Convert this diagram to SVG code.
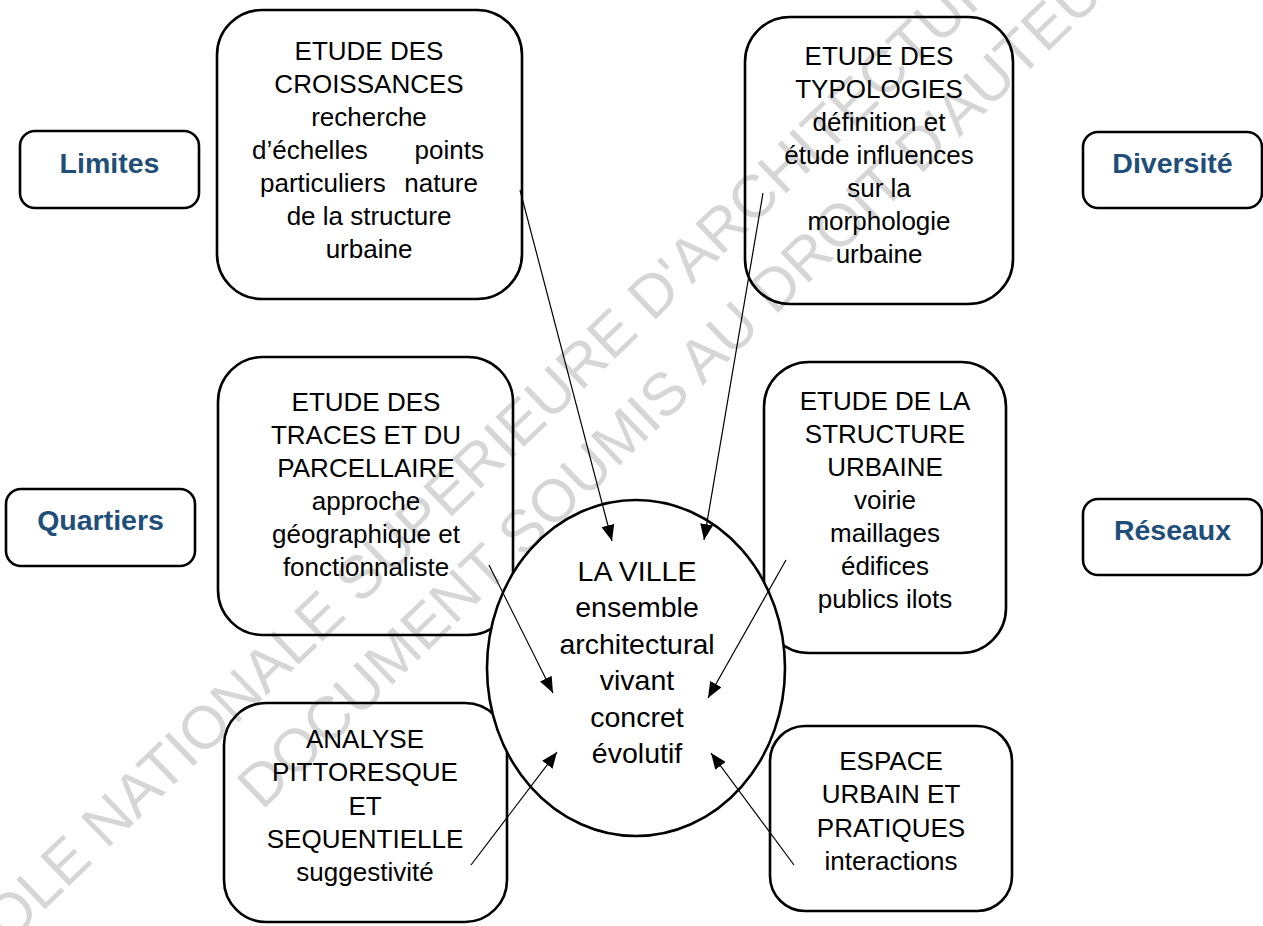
<svg xmlns="http://www.w3.org/2000/svg" width="1263" height="926" viewBox="0 0 1263 926">
<defs>
<marker id="ah" markerUnits="userSpaceOnUse" markerWidth="16" markerHeight="13" refX="16" refY="6.5" orient="auto">
<path d="M0,0 L16,6.5 L0,13 z" fill="#000"/>
</marker>
<style>
.box{fill:none;stroke:#000;stroke-width:2.6}
.lab{fill:none;stroke:#000;stroke-width:2.6}
.t{font-family:"Liberation Sans",Arial,sans-serif;font-size:26px;fill:#000;text-anchor:middle}
.tv{font-family:"Liberation Sans",Arial,sans-serif;font-size:28.5px;fill:#000;text-anchor:middle}
.lt{font-family:"Liberation Sans",Arial,sans-serif;font-size:28.5px;font-weight:bold;fill:#1F4E79;text-anchor:middle}
.wm{font-family:"Liberation Sans",Arial,sans-serif;font-size:60px;fill:#d6d6d6}
.c{stroke:#000;stroke-width:1.2;fill:none;marker-end:url(#ah)}
</style>
</defs>
<rect width="1263" height="926" fill="#fff"/>
<g id="watermark">
<text class="wm" transform="translate(-52,1003) rotate(-44)">ECOLE NATIONALE SUPERIEURE D'ARCHITECTURE</text>
<text class="wm" transform="translate(262,811) rotate(-44)">DOCUMENT SOUMIS AU DROIT D'AUTEUR</text>
</g>
<g id="limites">
<rect class="lab" x="20" y="131" width="179" height="77" rx="15"/>
<text class="lt" x="109.5" y="173">Limites</text>
</g>
<g id="diversite">
<rect class="lab" x="1083" y="132" width="179" height="76" rx="15"/>
<text class="lt" x="1172.5" y="173">Diversité</text>
</g>
<g id="quartiers">
<rect class="lab" x="6" y="489" width="189" height="77" rx="15"/>
<text class="lt" x="100.5" y="530">Quartiers</text>
</g>
<g id="reseaux">
<rect class="lab" x="1083" y="499" width="179" height="76" rx="15"/>
<text class="lt" x="1172.5" y="540">Réseaux</text>
</g>
<g id="croissances">
<rect class="box" x="217" y="10" width="305" height="289" rx="45"/>
<text class="t" x="369" y="60">ETUDE DES</text>
<text class="t" x="369" y="93">CROISSANCES</text>
<text class="t" x="369" y="126">recherche</text>
<text class="t" y="159"><tspan x="252" text-anchor="start">d’échelles</tspan><tspan x="484" text-anchor="end">points</tspan></text>
<text class="t" y="192"><tspan x="260" text-anchor="start">particuliers</tspan><tspan x="478" text-anchor="end">nature</tspan></text>
<text class="t" x="369" y="225">de la structure</text>
<text class="t" x="369" y="258">urbaine</text>
</g>
<g id="typologies">
<rect class="box" x="745" y="17" width="268" height="287" rx="45"/>
<text class="t" x="879" y="65">ETUDE DES</text>
<text class="t" x="879" y="98">TYPOLOGIES</text>
<text class="t" x="879" y="131">définition et</text>
<text class="t" x="879" y="164">étude influences</text>
<text class="t" x="879" y="197">sur la</text>
<text class="t" x="879" y="230">morphologie</text>
<text class="t" x="879" y="263">urbaine</text>
</g>
<g id="traces">
<rect class="box" x="218" y="357" width="295" height="278" rx="45"/>
<text class="t" x="366" y="411">ETUDE DES</text>
<text class="t" x="366" y="444">TRACES ET DU</text>
<text class="t" x="366" y="477">PARCELLAIRE</text>
<text class="t" x="366" y="510">approche</text>
<text class="t" x="366" y="543">géographique et</text>
<text class="t" x="366" y="576">fonctionnaliste</text>
</g>
<g id="structure">
<rect class="box" x="764" y="362" width="242" height="291" rx="45"/>
<text class="t" x="885" y="410">ETUDE DE LA</text>
<text class="t" x="885" y="443">STRUCTURE</text>
<text class="t" x="885" y="476">URBAINE</text>
<text class="t" x="885" y="509">voirie</text>
<text class="t" x="885" y="542">maillages</text>
<text class="t" x="885" y="575">édifices</text>
<text class="t" x="885" y="608">publics ilots</text>
</g>
<g id="analyse">
<rect class="box" x="224" y="703" width="283" height="219" rx="42"/>
<text class="t" x="365" y="748">ANALYSE</text>
<text class="t" x="365" y="781">PITTORESQUE</text>
<text class="t" x="365" y="815">ET</text>
<text class="t" x="365" y="848">SEQUENTIELLE</text>
<text class="t" x="365" y="881">suggestivité</text>
</g>
<g id="espace">
<rect class="box" x="770" y="726" width="242" height="185" rx="35"/>
<text class="t" x="891" y="770">ESPACE</text>
<text class="t" x="891" y="803">URBAIN ET</text>
<text class="t" x="891" y="837">PRATIQUES</text>
<text class="t" x="891" y="870">interactions</text>
</g>
<g id="ville">
<ellipse cx="636" cy="668" rx="149" ry="168" fill="#fff" stroke="#000" stroke-width="2.6"/>
<text class="tv" x="637" y="581">LA VILLE</text>
<text class="tv" x="637" y="617">ensemble</text>
<text class="tv" x="637" y="654">architectural</text>
<text class="tv" x="637" y="690">vivant</text>
<text class="tv" x="637" y="727">concret</text>
<text class="tv" x="637" y="763">évolutif</text>
</g>
<g id="connectors">
<line class="c" x1="520" y1="190" x2="612" y2="541"/>
<line class="c" x1="763" y1="193" x2="704" y2="540"/>
<line class="c" x1="489" y1="565" x2="553" y2="693"/>
<line class="c" x1="786" y1="560" x2="708" y2="698"/>
<line class="c" x1="471" y1="865" x2="557" y2="752"/>
<line class="c" x1="794" y1="865" x2="711" y2="753"/>
</g>
</svg>
